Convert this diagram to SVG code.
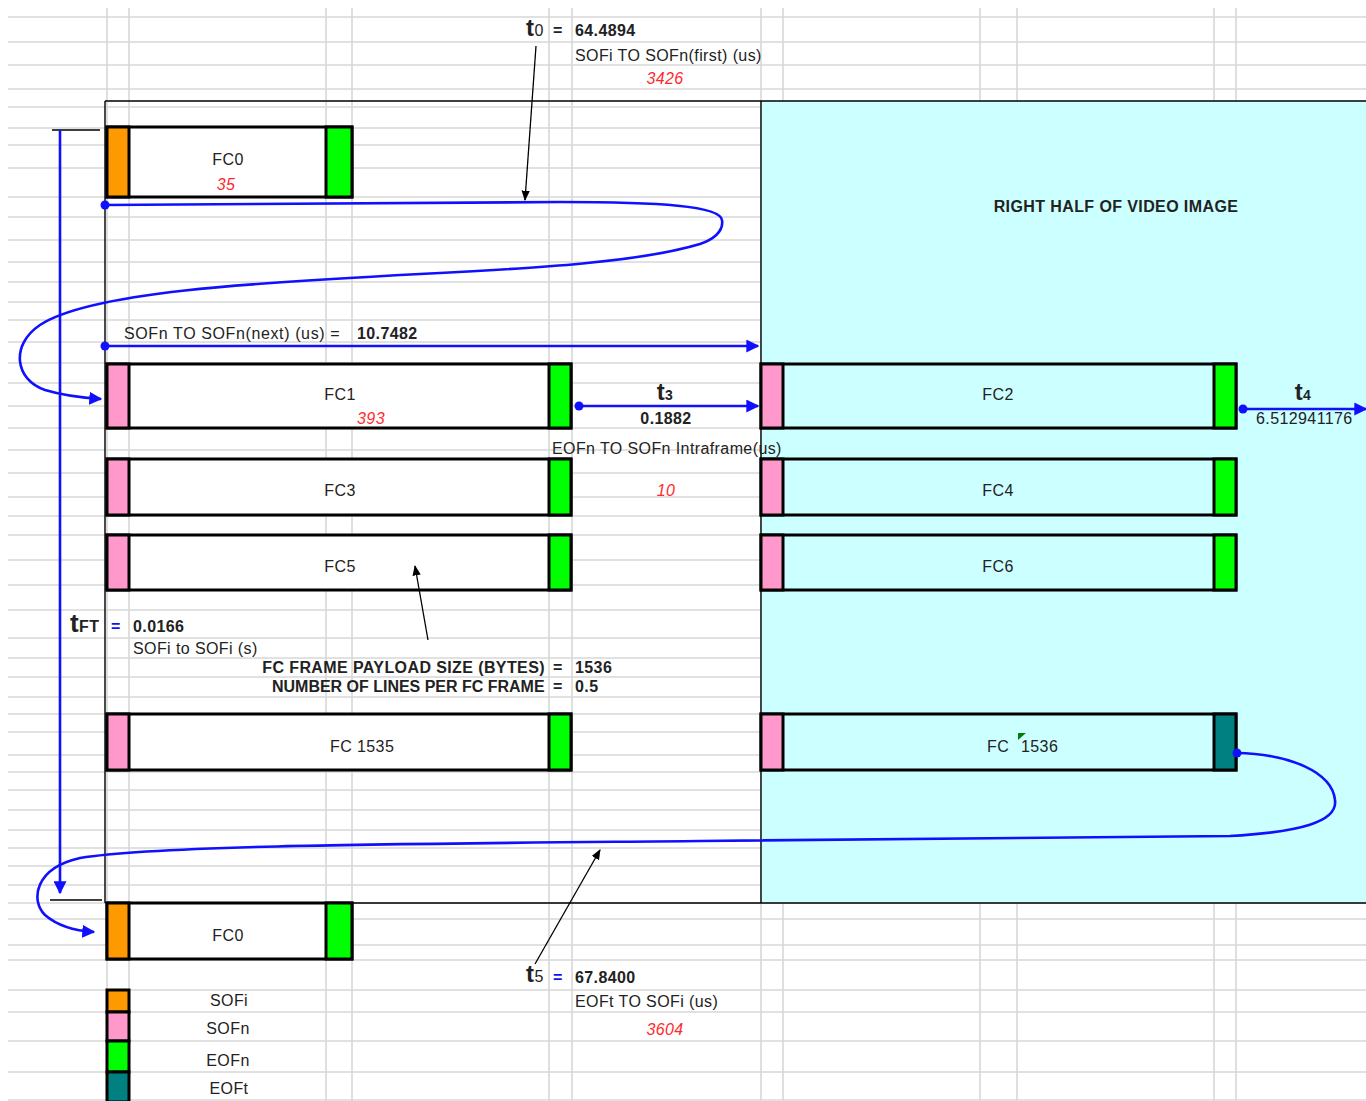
<svg xmlns="http://www.w3.org/2000/svg" width="1366" height="1101" viewBox="0 0 1366 1101">
<defs>
<style>
text{font-family:"Liberation Sans",Arial,sans-serif;font-size:16px;fill:#222;letter-spacing:0.4px}
.b{font-weight:bold}
.r{fill:#FF2A2A;font-style:italic}
.c{text-anchor:middle}
.e{text-anchor:end}
.grid{stroke:#D8D8D8;stroke-width:1.6;fill:none}
.frame{stroke:#000;stroke-width:1.4;fill:none}
.box{stroke:#000;stroke-width:3}
.blue{stroke:#1010FF;stroke-width:2.6;fill:none}
.blk{stroke:#000;stroke-width:1.3;fill:none}
.sofi{fill:#FF9900}
.sofn{fill:#FF99CC}
.eofn{fill:#00FF00}
.eoft{fill:#008080}
</style>
<marker id="ab" viewBox="0 0 10 10" refX="9" refY="5" markerWidth="5" markerHeight="5" markerUnits="strokeWidth" orient="auto"><path d="M0,0 L10,5 L0,10 z" fill="#1010FF"/></marker>
<marker id="ak" viewBox="0 0 10 10" refX="9" refY="5" markerWidth="8" markerHeight="8" markerUnits="strokeWidth" orient="auto"><path d="M0,1 L10,5 L0,9 z" fill="#000"/></marker>
</defs>
<rect x="0" y="0" width="1366" height="1101" fill="#fff"/>
<g id="grid">
<path class="grid" d="M8,17H1366M8,42H1366M8,65H1366M8,89H1366M8,107H1366M8,128H1366M8,145H1366M8,168H1366M8,197H1366M8,217H1366M8,240H1366M8,262H1366M8,282H1366M8,302H1366M8,320H1366M8,342H1366M8,363H1366M8,383H1366M8,406H1366M8,428H1366M8,450H1366M8,473H1366M8,497H1366M8,516H1366M8,535H1366M8,560H1366M8,585H1366M8,610H1366M8,638H1366M8,658H1366M8,677H1366M8,697H1366M8,714H1366M8,732H1366M8,755H1366M8,772H1366M8,790H1366M8,810H1366M8,830H1366M8,848H1366M8,866H1366M8,885H1366M8,903H1366M8,919H1366M8,945H1366M8,960H1366M8,990H1366M8,1012H1366M8,1041H1366M8,1072H1366M8,1100H1366"/>
<path class="grid" d="M107,8V1101M129,8V1101M326,8V1101M352,8V1101M549,8V1101M572,8V1101M761,8V1101M783,8V1101M980,8V1101M1017,8V1101M1214,8V1101M1236,8V1101"/>
</g>
<g id="frame">
<rect x="761" y="101" width="605" height="802" fill="#CCFFFF"/>
<path class="frame" d="M105,101H1366M105,101V903M761,101V903M105,903H1366M52,130H100M50,900H102"/>
</g>
<g id="fc0-top">
<rect class="box" x="107" y="127" width="245" height="70" fill="#fff"/>
<rect class="box sofi" x="107" y="127" width="22" height="70"/>
<rect class="box eofn" x="326" y="127" width="26" height="70"/>
<text class="c" x="228" y="165">FC0</text>
<text class="c r" x="226" y="190">35</text>
</g>
<g id="fc1">
<rect class="box" x="107" y="364" width="464" height="64" fill="#fff"/>
<rect class="box sofn" x="107" y="364" width="22" height="64"/>
<rect class="box eofn" x="549" y="364" width="22" height="64"/>
<text class="c" x="340" y="400">FC1</text>
<text class="c r" x="371" y="424">393</text>
</g>
<g id="fc2">
<rect class="box" x="761" y="364" width="475" height="64" fill="#CCFFFF"/>
<rect class="box sofn" x="761" y="364" width="22" height="64"/>
<rect class="box eofn" x="1214" y="364" width="22" height="64"/>
<text class="c" x="998" y="400">FC2</text>
</g>
<g id="fc3">
<rect class="box" x="107" y="459" width="464" height="56" fill="#fff"/>
<rect class="box sofn" x="107" y="459" width="22" height="56"/>
<rect class="box eofn" x="549" y="459" width="22" height="56"/>
<text class="c" x="340" y="496">FC3</text>
</g>
<g id="fc4">
<rect class="box" x="761" y="459" width="475" height="56" fill="#CCFFFF"/>
<rect class="box sofn" x="761" y="459" width="22" height="56"/>
<rect class="box eofn" x="1214" y="459" width="22" height="56"/>
<text class="c" x="998" y="496">FC4</text>
</g>
<g id="fc5">
<rect class="box" x="107" y="535" width="464" height="55" fill="#fff"/>
<rect class="box sofn" x="107" y="535" width="22" height="55"/>
<rect class="box eofn" x="549" y="535" width="22" height="55"/>
<text class="c" x="340" y="572">FC5</text>
</g>
<g id="fc6">
<rect class="box" x="761" y="535" width="475" height="55" fill="#CCFFFF"/>
<rect class="box sofn" x="761" y="535" width="22" height="55"/>
<rect class="box eofn" x="1214" y="535" width="22" height="55"/>
<text class="c" x="998" y="572">FC6</text>
</g>
<g id="fc1535">
<rect class="box" x="107" y="714" width="464" height="56" fill="#fff"/>
<rect class="box sofn" x="107" y="714" width="22" height="56"/>
<rect class="box eofn" x="549" y="714" width="22" height="56"/>
<text x="330" y="752">FC</text>
<text x="357" y="752">1535</text>
</g>
<g id="fc1536">
<rect class="box" x="761" y="714" width="475" height="56" fill="#CCFFFF"/>
<rect class="box sofn" x="761" y="714" width="22" height="56"/>
<rect class="box eoft" x="1214" y="714" width="22" height="56"/>
<text x="987" y="752">FC</text>
<text x="1021" y="752">1536</text>
<path d="M1018,733H1026L1018,740z" fill="#008000"/>
</g>
<g id="fc0-bottom">
<rect class="box" x="107" y="903" width="245" height="56" fill="#fff"/>
<rect class="box sofi" x="107" y="903" width="22" height="56"/>
<rect class="box eofn" x="326" y="903" width="26" height="56"/>
<text class="c" x="228" y="941">FC0</text>
</g>
<g id="legend">
<rect class="box sofi" x="107" y="990" width="22" height="22"/>
<rect class="box sofn" x="107" y="1012" width="22" height="29"/>
<rect class="box eofn" x="107" y="1041" width="22" height="31"/>
<rect class="box eoft" x="107" y="1072" width="22" height="30"/>
<text class="c" x="229" y="1006">SOFi</text>
<text class="c" x="228" y="1034">SOFn</text>
<text class="c" x="228" y="1066">EOFn</text>
<text class="c" x="229" y="1094">EOFt</text>
</g>
<g id="labels">
<text x="526" y="36"><tspan class="b" font-size="24px">t</tspan><tspan font-size="16px">0</tspan></text>
<text class="b" x="553" y="36">=</text>
<text class="b" x="575" y="36">64.4894</text>
<text x="575" y="61">SOFi TO SOFn(first) (us)</text>
<text class="c r" x="665" y="84">3426</text>
<text class="b c" x="1116" y="212">RIGHT HALF OF VIDEO IMAGE</text>
<text x="124" y="339" textLength="216">SOFn TO SOFn(next) (us) =</text>
<text class="b" x="357" y="339">10.7482</text>
<text class="c" x="665" y="400"><tspan class="b" font-size="24px">t</tspan><tspan class="b" font-size="14px">3</tspan></text>
<text class="b c" x="666" y="424">0.1882</text>
<text x="552" y="454">EOFn TO SOFn Intraframe(us)</text>
<text class="c r" x="666" y="496">10</text>
<text class="c" x="1303" y="400"><tspan class="b" font-size="24px">t</tspan><tspan class="b" font-size="14px">4</tspan></text>
<text x="1256" y="424">6.512941176</text>
<text x="70" y="632"><tspan class="b" font-size="26px">t</tspan><tspan class="b" font-size="16px">FT</tspan></text>
<text class="b" x="111" y="632" style="fill:#1010FF">=</text>
<text class="b" x="133" y="632">0.0166</text>
<text x="133" y="654">SOFi to SOFi (s)</text>
<text class="b e" x="545" y="673">FC FRAME PAYLOAD SIZE (BYTES)</text>
<text class="b" x="553" y="673">=</text>
<text class="b" x="575" y="673">1536</text>
<text class="b" x="272" y="692" textLength="273">NUMBER OF LINES PER FC FRAME</text>
<text class="b" x="553" y="692">=</text>
<text class="b" x="575" y="692">0.5</text>
<text x="526" y="982"><tspan class="b" font-size="24px">t</tspan><tspan font-size="16px">5</tspan></text>
<text class="b" x="553" y="983" style="fill:#1010FF">=</text>
<text class="b" x="575" y="983">67.8400</text>
<text x="575" y="1007">EOFt TO SOFi (us)</text>
<text class="c r" x="665" y="1035">3604</text>
</g>
<g id="connectors">
<path class="blk" d="M536,46 L525,200" marker-end="url(#ak)"/>
<path class="blk" d="M428,640 L415,566" marker-end="url(#ak)"/>
<path class="blk" d="M535,964 L600,850" marker-end="url(#ak)"/>
<path class="blue" d="M105,205 L560,202 C660,202 720,206 722,220 C724,232 712,240 700,244 C640,262 540,268 420,274 C250,283 90,292 40,325 C10,345 15,380 45,390 C65,396 85,398 101,399" marker-end="url(#ab)"/>
<path class="blue" d="M105,346 H758" marker-end="url(#ab)"/>
<path class="blue" d="M579,406 H758" marker-end="url(#ab)"/>
<path class="blue" d="M1243,409 H1366" marker-end="url(#ab)"/>
<path class="blue" d="M60,130 V893" marker-end="url(#ab)"/>
<path class="blue" d="M1236,753 C1290,754 1332,772 1335,800 C1338,822 1300,832 1230,836 L700,841 C400,844 160,845 80,858 C35,868 30,900 45,915 C60,928 78,931 94,932" marker-end="url(#ab)"/>
<circle cx="105" cy="205" r="4.5" fill="#1010FF"/>
<circle cx="105" cy="346" r="4.5" fill="#1010FF"/>
<circle cx="579" cy="406" r="4.5" fill="#1010FF"/>
<circle cx="1243" cy="409" r="4.5" fill="#1010FF"/>
<circle cx="1237" cy="753" r="4.5" fill="#1010FF"/>
</g>
</svg>
